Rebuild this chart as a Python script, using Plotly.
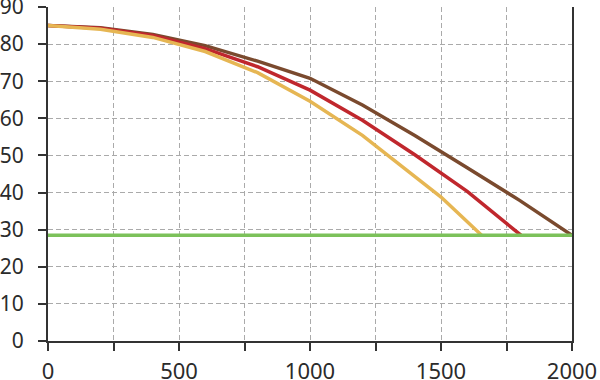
import plotly.graph_objects as go

x_brown = [0, 200, 400, 600, 800, 1000, 1200, 1400, 1600, 1800, 2000]
y_brown = [85, 84.4, 82.6, 79.6, 75.4, 70.8, 63.6, 55.4, 46.7, 37.9, 28.5]

x_red = [0, 200, 400, 600, 800, 1000, 1200, 1400, 1600, 1805]
y_red = [85, 84.3, 82.3, 78.8, 73.9, 67.6, 59.5, 50.2, 40.3, 28.5]

x_yellow = [0, 200, 400, 600, 800, 1000, 1200, 1400, 1500, 1655]
y_yellow = [85, 84.0, 81.8, 78.0, 72.3, 64.6, 55.4, 44.5, 38.8, 28.5]

x_green = [0, 2000]
y_green = [28.5, 28.5]

x_tickvals = [0, 250, 500, 750, 1000, 1250, 1500, 1750, 2000]
x_ticktext = ["0", "", "500", "", "1000", "", "1500", "", "2000"]
y_tickvals = [0, 10, 20, 30, 40, 50, 60, 70, 80, 90]

fig = go.Figure()
fig.add_trace(go.Scatter(x=x_brown, y=y_brown, mode="lines",
                         line=dict(color="#7a4a2e", width=3.5)))
fig.add_trace(go.Scatter(x=x_red, y=y_red, mode="lines",
                         line=dict(color="#c0272d", width=3.5)))
fig.add_trace(go.Scatter(x=x_yellow, y=y_yellow, mode="lines",
                         line=dict(color="#e6b653", width=3.5)))
fig.add_trace(go.Scatter(x=x_green, y=y_green, mode="lines",
                         line=dict(color="#7cc15a", width=3.5)))

xfont = dict(family="Noto Sans, sans-serif", size=22, color="#2b2b2b")
yfont = dict(family="Noto Sans, sans-serif", size=21, color="#2b2b2b")
fig.update_layout(
    width=600, height=380,
    margin=dict(l=48, r=28, t=7, b=39),
    plot_bgcolor="white", paper_bgcolor="white",
    showlegend=False,
    font=xfont,
    xaxis=dict(range=[0, 2000], tickvals=x_tickvals, ticktext=x_ticktext,
               showgrid=True, gridcolor="#aaaaaa", gridwidth=1, griddash="5px,3px",
               showline=True, linecolor="#333333", linewidth=2,
               ticks="outside", ticklen=8, tickwidth=2, tickcolor="#333333",
               zeroline=False, tickfont=xfont, automargin=False,
               ticklabeloverflow="allow", ticklabelstandoff=2),
    yaxis=dict(range=[0, 90], tickvals=y_tickvals,
               showgrid=True, gridcolor="#aaaaaa", gridwidth=1, griddash="5px,3px",
               showline=True, linecolor="#333333", linewidth=2, mirror=True,
               ticks="outside", ticklen=8, tickwidth=2, tickcolor="#333333",
               zeroline=False, tickfont=yfont, automargin=False,
               ticklabeloverflow="allow", ticklabelstandoff=10),
)

fig.write_html("out.html", config={"displayModeBar": False},
               post_script="document.body.style.margin='0';")
